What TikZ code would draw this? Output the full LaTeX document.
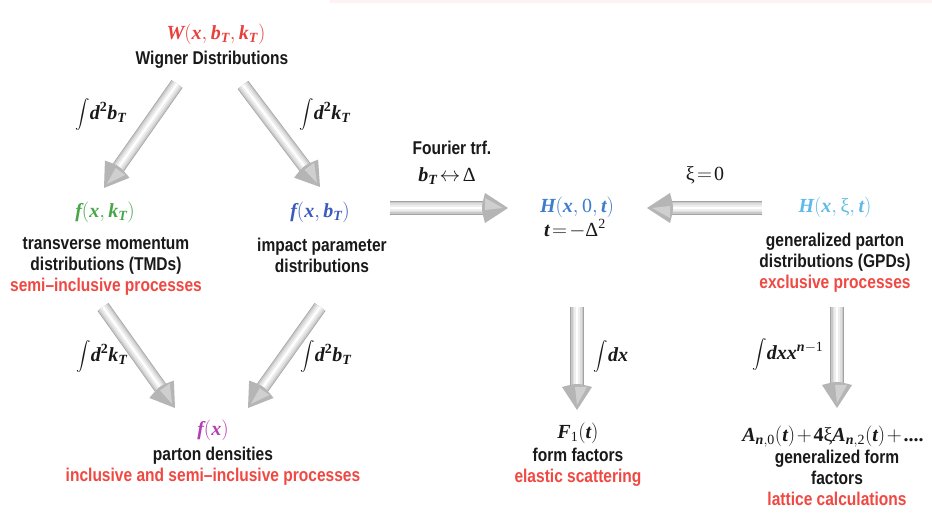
\documentclass[tikz,border=0pt]{standalone}
\usepackage{fontspec}
\usepackage{amsmath}
\usetikzlibrary{calc}
\newfontfamily\lab[FakeStretch=0.84]{Liberation Sans}
\newfontfamily\mth{Liberation Serif}
\definecolor{tred}{RGB}{240,72,66}
\definecolor{wred}{RGB}{232,64,60}
\definecolor{tgreen}{RGB}{72,165,72}
\definecolor{fblue}{RGB}{58,90,190}
\definecolor{hblue}{RGB}{60,125,205}
\definecolor{lblue}{RGB}{95,185,235}
\definecolor{fmag}{RGB}{180,60,180}
\definecolor{tblack}{RGB}{25,25,25}
\newcommand\mv[1]{\text{\mth\bfseries\itshape #1}}
\newcommand\mr[1]{\text{\mth\bfseries #1}}
\newcommand\mn[1]{\text{\mth #1}}
\newcommand\tightmath{\thickmuskip=2mu plus 1mu\medmuskip=1.5mu\relax}
\newcommand\bigint{\raisebox{1pt}{\fontsize{15}{15}\selectfont$\displaystyle\int$}}
\newcommand\fatarrow[2]{%
  \coordinate (fah) at ($(#2)!23pt!(#1)$);
  \foreach \w/\c in {13.5/gray!72,12/gray!42,9/gray!26,5.5/gray!13,2/white} {\draw[line width=\w pt,\c] (#1) -- (fah);}
  \fill[gray!58] ($(fah)!15pt!90:(#2)$) -- (#2) -- ($(fah)!15pt!-90:(#2)$) .. controls ($(fah)!4pt!(#1)$) .. cycle;
  \fill[gray!38] ($(fah)!10pt!90:(#2)$) -- ($(#2)!5pt!(fah)$) -- ($(fah)!2pt!-90:(#2)$) -- cycle;
}
\tikzset{
  lbl/.style={font=\lab\bfseries\fontsize{18.5}{21}\selectfont, text=tblack, align=center, inner sep=0pt},
  fml/.style={font=\fontsize{20}{24}\selectfont\tightmath, text=tblack, inner sep=0pt},
}
\begin{document}
\begin{tikzpicture}[x=1pt,y=-1pt]
\useasboundingbox (0,0) rectangle (932,526);
\fill[white] (0,0) rectangle (932,526);
\fill[red!5] (330,0) rectangle (932,3);

% arrow end points
\coordinate (a1s) at (177,84);  \coordinate (a1e) at (104,188);
\coordinate (a2s) at (243,85);  \coordinate (a2e) at (320,187);
\coordinate (a3s) at (390,208); \coordinate (a3e) at (508,208);
\coordinate (a4s) at (762,208); \coordinate (a4e) at (647,208);
\coordinate (a5s) at (103,307); \coordinate (a5e) at (175,408);
\coordinate (a6s) at (320,307); \coordinate (a6e) at (248,408);
\coordinate (a7s) at (577,307); \coordinate (a7e) at (577,410);
\coordinate (a8s) at (837,307); \coordinate (a8e) at (837,408);

\fatarrow{a1s}{a1e}
\fatarrow{a2s}{a2e}
\fatarrow{a3s}{a3e}
\fatarrow{a4s}{a4e}
\fatarrow{a5s}{a5e}
\fatarrow{a6s}{a6e}
\fatarrow{a7s}{a7e}
\fatarrow{a8s}{a8e}

% top
\node[fml, text=wred] (W) at (216,34) {$\mv{W}(\mv{x},\mv{b}_{\mv{T}},\mv{k}_{\mv{T}})$};
\node[lbl] (Wd) at (212,60) {Wigner Distributions};
\node[fml] (i1) at (101,115) {\bigint$\mv{d}^{\mr{2}}\mv{b}_{\mv{T}}$};
\node[fml] (i2) at (325,115) {\bigint$\mv{d}^{\mr{2}}\mv{k}_{\mv{T}}$};

% TMD
\node[fml, text=tgreen] (fk) at (105,212) {$\mv{f}(\mv{x},\mv{k}_{\mv{T}})$};
\node[lbl] (fkd) at (106,266) {transverse momentum\\distributions (TMDs)\\\textcolor{tred}{semi–inclusive processes}};

% IPD
\node[fml, text=fblue] (fb) at (320,212) {$\mv{f}(\mv{x},\mv{b}_{\mv{T}})$};
\node[lbl] (fbd) at (322,255) {impact parameter\\distributions};

% Fourier
\node[lbl] (ft) at (452,148) {Fourier trf.};
\node[fml] (ftm) at (447,176) {$\mv{b}_{\mv{T}}\leftrightarrow\mn{Δ}$};

% H(x,0,t)
\node[fml, text=hblue] (H0) at (577,207) {$\mv{H}(\mv{x},\mn{0},\mv{t})$};
\node[fml] (H0t) at (575,229) {$\mv{t}=-\mn{Δ}^{\mn{2}}$};

% xi = 0
\node[fml] (xi0) at (705,175) {$\mn{ξ}=\mn{0}$};

% GPD
\node[fml, text=lblue] (Hx) at (835,207) {$\mv{H}(\mv{x},\mn{ξ},\mv{t})$};
\node[lbl] (Hxd) at (835,263) {generalized parton\\distributions (GPDs)\\\textcolor{tred}{exclusive processes}};

% bottom left
\node[fml] (i3) at (102,357) {\bigint$\mv{d}^{\mr{2}}\mv{k}_{\mv{T}}$};
\node[fml] (i4) at (326,357) {\bigint$\mv{d}^{\mr{2}}\mv{b}_{\mv{T}}$};
\node[fml, text=fmag] (fx) at (213,430) {$\mv{f}(\mv{x})$};
\node[lbl] (fxd) at (213,466) {parton densities\\\textcolor{tred}{inclusive and semi–inclusive processes}};

% form factors
\node[fml] (i5) at (611,357) {\bigint$\mv{dx}$};
\node[fml] (F1) at (578,433) {$\mv{F}_{\mn{1}}(\mv{t})$};
\node[lbl] (F1d) at (578,467) {form factors\\\textcolor{tred}{elastic scattering}};

% GFF
\node[fml] (i6) at (788,355) {\bigint$\mv{dxx}^{\mv{n}-\mn{1}}$};
\node[fml] (A) at (833,437) {$\mv{A}_{\mv{n},\mn{0}}(\mv{t})+\mr{4}\mn{ξ}\mv{A}_{\mv{n},\mn{2}}(\mv{t})+\mr{....}$};
\node[lbl] (Ad) at (837,478) {generalized form\\factors\\\textcolor{tred}{lattice calculations}};
\end{tikzpicture}
\end{document}
